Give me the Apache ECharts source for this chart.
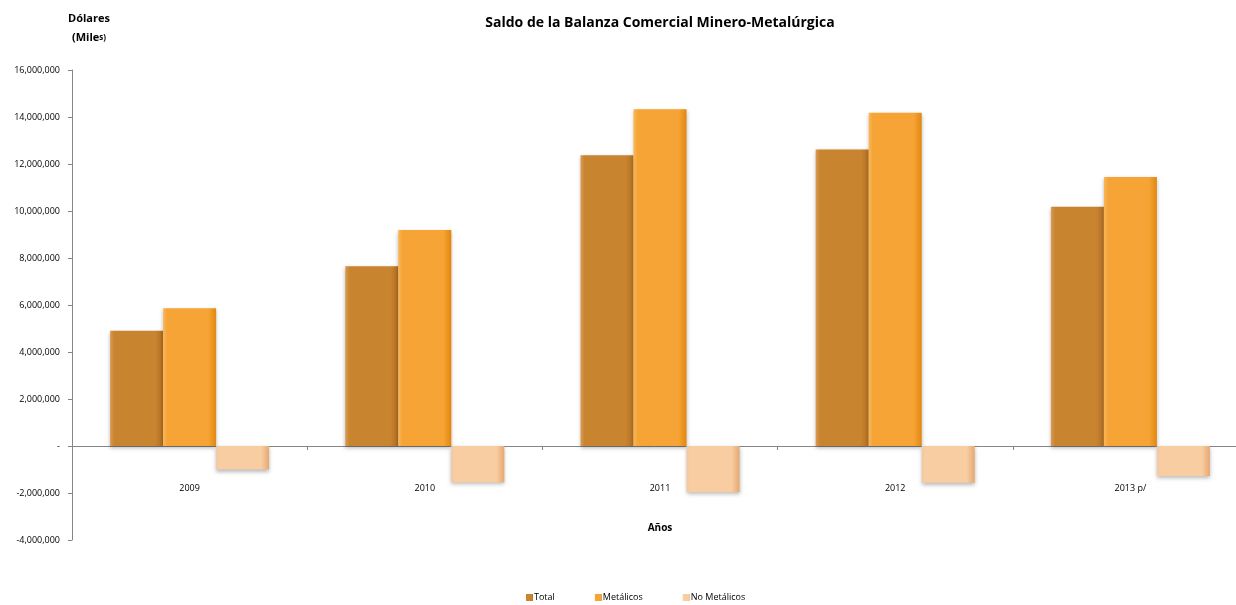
<!DOCTYPE html>
<html>
<head>
<meta charset="utf-8">
<script src="https://cdn.jsdelivr.net/npm/echarts@6/dist/echarts.min.js"></script>
<style>
  html, body { margin: 0; padding: 0; background: #fff; }
  #chart { width: 1236px; height: 605px; }
</style>
</head>
<body>
<div id="chart"></div>
<script>
// datos (miles de dólares)
const years = ['2009', '2010', '2011', '2012', '2013 p/']
const total = [4900000, 7650000, 12370000, 12620000, 10180000]
const metalicos = [5860000, 9190000, 14330000, 14180000, 11450000]
const noMetalicos = [-1000000, -1550000, -1970000, -1560000, -1280000]
const yTicks = { min: -4000000, max: 16000000, step: 2000000 }

const font = '"Open Sans", "Liberation Sans", sans-serif'

function grad (edge, mid, dark) {
  return new echarts.graphic.LinearGradient(0, 0, 1, 0, [
    { offset: 0, color: edge },
    { offset: 0.08, color: mid },
    { offset: 0.85, color: mid },
    { offset: 1, color: dark }
  ])
}

function fmt (v) {
  if (v === 0) return '-'
  return v.toLocaleString('en-US')
}

let barStyle = {
  shadowColor: 'rgba(0,0,0,0.28)',
  shadowBlur: 4,
  shadowOffsetY: 2
}

let chart = echarts.init(document.getElementById('chart'))
let option = {
  animation: false,
  title: {
    text: 'Saldo de la Balanza Comercial Minero-Metalúrgica',
    left: 655,
    textAlign: 'center',
    top: 11,
    textStyle: { fontFamily: font, fontSize: 14, fontWeight: 'bold', color: '#000' }
  },
  legend: {
    bottom: -2,
    left: 521,
    itemWidth: 7,
    itemHeight: 7,
    itemGap: 40,
    icon: 'rect',
    textStyle: { fontFamily: font, fontSize: 9, color: '#000', padding: [0, 0, 0, -4] },
    data: ['Total', 'Metálicos', 'No Metálicos']
  },
  grid: { left: 72, right: -12, top: 70, bottom: 65, containLabel: false, outerBoundsMode: 'none' },
  xAxis: {
    type: 'category',
    data: years,
    name: 'Años',
    nameLocation: 'middle',
    nameGap: -17,
    nameTextStyle: { fontFamily: font, fontSize: 10, fontWeight: 'bold', color: '#000' },
    axisLine: { onZero: true, lineStyle: { color: '#868686' } },
    axisTick: { show: true, length: 4, lineStyle: { color: '#868686' } },
    axisLabel: { margin: -56, fontFamily: font, fontSize: 9, color: '#000' }
  },
  yAxis: {
    type: 'value',
    min: yTicks.min,
    max: yTicks.max,
    interval: yTicks.step,
    name: '{b|Dólares}\n{b|(Mile}{s|s)}',
    nameLocation: 'end',
    nameGap: 19,
    nameTextStyle: {
      align: 'center',
      padding: [0, 0, 4, 34],
      rich: {
        b: { fontFamily: font, fontSize: 11, fontWeight: 'bold', color: '#000', lineHeight: 19 },
        s: { fontFamily: font, fontSize: 8, fontWeight: 'bold', color: '#000', lineHeight: 19 }
      }
    },
    axisLine: { show: true, lineStyle: { color: '#868686' } },
    axisTick: { show: true, length: 4, lineStyle: { color: '#868686' } },
    splitLine: { show: false },
    axisLabel: { margin: 12, fontFamily: font, fontSize: 9, color: '#000', formatter: fmt }
  },
  series: [
    {
      name: 'Total',
      type: 'bar',
      data: total,
      barWidth: 53,
      barGap: '0%',
      itemStyle: Object.assign({ color: grad('#d99a55', '#c9842f', '#b46f22') }, barStyle)
    },
    {
      name: 'Metálicos',
      type: 'bar',
      data: metalicos,
      barWidth: 53,
      barGap: '0%',
      itemStyle: Object.assign({ color: grad('#f9b75a', '#f6a435', '#e2870f') }, barStyle)
    },
    {
      name: 'No Metálicos',
      type: 'bar',
      data: noMetalicos,
      barWidth: 53,
      barGap: '0%',
      itemStyle: Object.assign({ color: grad('#f2c9a4', '#f8cda2', '#e7a871') }, barStyle)
    }
  ]
}
chart.setOption(option)
</script>
</body>
</html>
